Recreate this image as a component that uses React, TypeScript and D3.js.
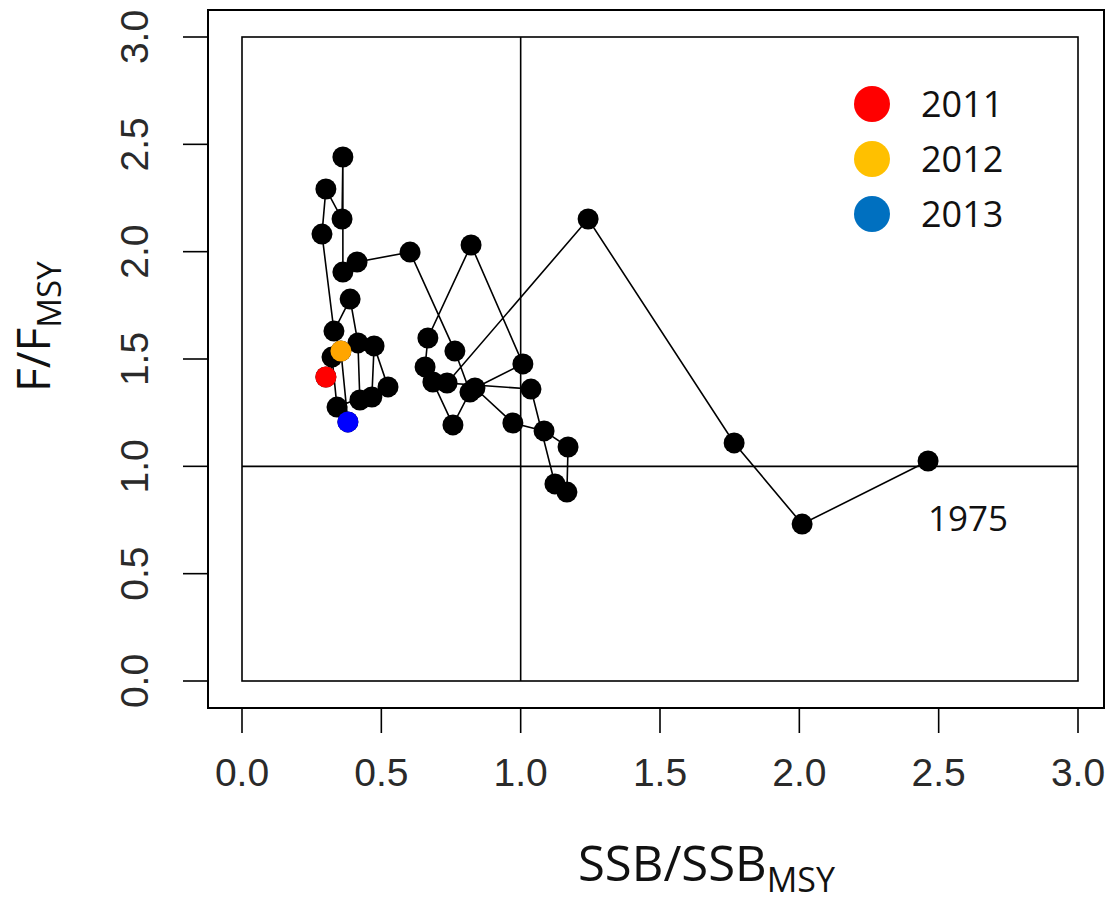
import React from "react";
import * as d3 from "d3";

const years = [1975,1976,1977,1978,1979,1980,1981,1982,1983,1984,1985,1986,1987,1988,1989,1990,1991,1992,1993,1994,1995,1996,1997,1998,1999,2000,2001,2002,2003,2004,2005,2006,2007,2008,2009,2010,2011,2012,2013];
const ssbRatio = [2.462,2.010,1.766,1.242,0.736,1.037,1.123,1.166,1.170,1.084,0.972,0.836,1.008,0.822,0.667,0.657,0.685,0.757,0.818,0.764,0.603,0.413,0.362,0.362,0.359,0.301,0.287,0.330,0.388,0.416,0.423,0.466,0.474,0.524,0.341,0.323,0.301,0.355,0.380];
const fRatio = [1.025,0.731,1.109,2.152,1.388,1.360,0.918,0.880,1.090,1.165,1.202,1.365,1.477,2.031,1.598,1.463,1.393,1.193,1.346,1.537,1.998,1.952,1.905,2.441,2.152,2.292,2.082,1.630,1.779,1.575,1.309,1.323,1.561,1.370,1.276,1.509,1.416,1.537,1.207];

const highlightYears = [2011, 2012, 2013];
const highlightPlotColors = ["#FF0000", "#FFA500", "#0000FF"];
const legendLabels = ["2011", "2012", "2013"];
const legendColors = ["#FF0000", "#FFC000", "#0070C0"];
const tickValues = [0, 0.5, 1, 1.5, 2, 2.5, 3];
const startLabel = "1975";

const W = 1111, H = 902;
const box = { left: 208, right: 1104, top: 10, bottom: 708 };

export default function App() {
  const x = d3.scaleLinear().domain([0, 3]).range([242, 1078]);
  const y = d3.scaleLinear().domain([0, 3]).range([681, 37]);
  const pts = years.map((yr, i) => ({ yr, s: ssbRatio[i], f: fRatio[i] }));
  const line = d3.line<any>().x(d => x(d.s)).y(d => y(d.f));
  const fmt = d3.format(".1f");
  const tickFont = "'Liberation Sans', Arial, sans-serif";
  const labFont = "'Open Sans', 'Noto Sans', sans-serif";
  const first = pts[0];

  return (
    <svg width={W} height={H} style={{ position: "absolute", left: 0, top: 0, background: "#fff" }}>
      <rect x={0} y={0} width={W} height={H} fill="#fff" />
      {/* outer box */}
      <rect x={box.left} y={box.top} width={box.right - box.left} height={box.bottom - box.top} fill="none" stroke="#000" strokeWidth={2} />
      {/* inner rect */}
      <rect x={x(0)} y={y(3)} width={x(3) - x(0)} height={y(0) - y(3)} fill="none" stroke="#000" strokeWidth={1.6} />
      <line x1={x(1)} x2={x(1)} y1={y(0)} y2={y(3)} stroke="#000" strokeWidth={1.6} />
      <line x1={x(0)} x2={x(3)} y1={y(1)} y2={y(1)} stroke="#000" strokeWidth={1.6} />

      {/* x axis */}
      {tickValues.map(t => (
        <g key={"xt" + t}>
          <line x1={x(t)} x2={x(t)} y1={box.bottom} y2={box.bottom + 25} stroke="#000" strokeWidth={1.6} />
          <text x={x(t)} y={786} textAnchor="middle" fontFamily={tickFont} fontSize={39} fill="#2a2a2a">{fmt(t)}</text>
        </g>
      ))}
      {/* y axis */}
      {tickValues.map(t => (
        <g key={"yt" + t}>
          <line x1={box.left} x2={box.left - 25} y1={y(t)} y2={y(t)} stroke="#000" strokeWidth={1.6} />
          <text transform={`translate(148,${y(t)}) rotate(-90)`} textAnchor="middle" fontFamily={tickFont} fontSize={39} fill="#2a2a2a">{fmt(t)}</text>
        </g>
      ))}

      {/* trajectory */}
      <path d={line(pts) || ""} fill="none" stroke="#000" strokeWidth={1.6} />
      {pts.map(p => (
        <circle key={"p" + p.yr} cx={x(p.s)} cy={y(p.f)} r={10.5} fill="#000" />
      ))}
      {pts.filter(p => highlightYears.includes(p.yr)).map(p => (
        <circle key={"h" + p.yr} cx={x(p.s)} cy={y(p.f)} r={10.5} fill={highlightPlotColors[highlightYears.indexOf(p.yr)]} />
      ))}

      <text x={x(first.s) + 40} y={y(first.f) + 70} textAnchor="middle" fontFamily={labFont} fontSize={35} fill="#111">{startLabel}</text>

      {/* legend */}
      {legendLabels.map((l, i) => (
        <g key={"lg" + l}>
          <circle cx={872} cy={104 + i * 55} r={18} fill={legendColors[i]} />
          <text x={921} y={104 + i * 55 + 13} fontFamily={labFont} fontSize={36} fill="#111">{l}</text>
        </g>
      ))}

      {/* axis titles */}
      <text x={578} y={881} fontFamily={labFont} fontSize={49} fill="#111">
        SSB/SSB<tspan fontSize={34} dy={11}>MSY</tspan>
      </text>
      <text transform="translate(50,392) rotate(-90)" fontFamily={labFont} fontSize={46} fill="#111">
        F/F<tspan fontSize={33} dy={11}>MSY</tspan>
      </text>
    </svg>
  );
}
